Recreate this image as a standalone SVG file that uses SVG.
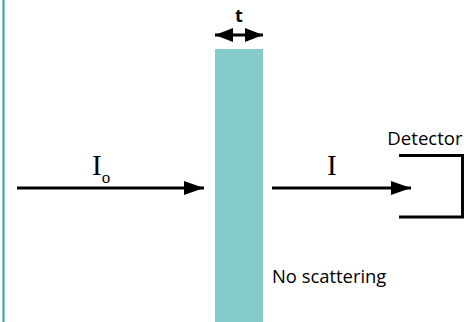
<svg xmlns="http://www.w3.org/2000/svg" width="474" height="322" viewBox="0 0 474 322">
<defs>
<style>
.ln{stroke:#000;stroke-width:3;fill:none}
.sans{font-family:"Open Sans","Liberation Sans",sans-serif;fill:#000}
.serif{font-family:"Liberation Serif","Times New Roman",serif;fill:#000}
</style>
<marker id="ah" viewBox="0 0 20 14" refX="20" refY="7" markerWidth="20" markerHeight="14" markerUnits="userSpaceOnUse" orient="auto-start-reverse">
<path d="M0,0 L20,7 L0,14 Z" fill="#000"/>
</marker>
<marker id="ah2" viewBox="0 0 18 14" refX="18" refY="7" markerWidth="18" markerHeight="14" markerUnits="userSpaceOnUse" orient="auto-start-reverse">
<path d="M0,0 L18,7 L0,14 Z" fill="#000"/>
</marker>
</defs>
<rect width="474" height="322" fill="#fff"/>
<line x1="3.5" y1="0" x2="3.5" y2="322" stroke="#2aa3a3" stroke-width="2"/>
<g id="slab"><rect x="215" y="49" width="48" height="273" fill="#84cccc"/></g>
<g id="thickness">
<text x="239" y="22" class="sans" font-size="18" font-weight="bold" text-anchor="middle">t</text>
</g>
<g id="detector">
<path class="ln" d="M399,155.5 H462.5 V217 H399" stroke-width="2.5"/>
<text x="425" y="145" class="sans" font-size="18.6" text-anchor="middle">Detector</text>
</g>
<g id="label-io"><text x="92" y="175" class="serif" font-size="29">I<tspan font-size="17" dy="8">o</tspan></text></g>
<g id="label-i"><text x="327" y="175" class="serif" font-size="29">I</text></g>
<g id="label-noscatter"><text x="272" y="283" class="sans" font-size="18.4">No scattering</text></g>
<g id="connectors">
<line class="ln" x1="215" y1="35" x2="263" y2="35" marker-start="url(#ah2)" marker-end="url(#ah2)"/>
<line class="ln" x1="17" y1="188" x2="204" y2="188" marker-end="url(#ah)"/>
<line class="ln" x1="272" y1="188" x2="411" y2="188" marker-end="url(#ah)"/>
</g>
</svg>
